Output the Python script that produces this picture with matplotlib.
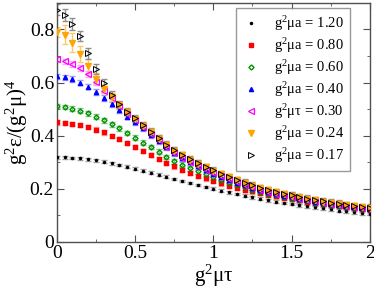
import numpy as np
import matplotlib
matplotlib.use("Agg")
import matplotlib.pyplot as plt
from matplotlib.lines import Line2D

plt.rcParams['font.family'] = ['Liberation Serif', 'DejaVu Serif']
plt.rcParams['mathtext.fontset'] = 'custom'
plt.rcParams['mathtext.rm'] = 'Liberation Serif'
plt.rcParams['mathtext.it'] = 'Liberation Serif:italic'

# g^2 mu tau grid
tau = np.round(np.arange(41) * 0.05, 2)

e_120 = [0.318, 0.318, 0.316, 0.314, 0.311, 0.307, 0.302, 0.296, 0.290, 0.283,
         0.276, 0.268, 0.261, 0.253, 0.245, 0.237, 0.229, 0.222, 0.214, 0.207,
         0.200, 0.193, 0.187, 0.180, 0.174, 0.168, 0.163, 0.157, 0.152, 0.147,
         0.143, 0.138, 0.134, 0.130, 0.126, 0.122, 0.118, 0.115, 0.111, 0.108,
         0.105]
e_080 = [0.450, 0.449, 0.445, 0.440, 0.432, 0.423, 0.412, 0.399, 0.386, 0.371,
         0.356, 0.341, 0.326, 0.311, 0.297, 0.284, 0.272, 0.260, 0.249, 0.239,
         0.229, 0.220, 0.212, 0.204, 0.197, 0.190, 0.183, 0.177, 0.171, 0.166,
         0.161, 0.156, 0.151, 0.147, 0.143, 0.139, 0.135, 0.131, 0.128, 0.124,
         0.121]
e_060 = [0.512, 0.508, 0.502, 0.494, 0.484, 0.472, 0.458, 0.443, 0.427, 0.410,
         0.392, 0.374, 0.357, 0.340, 0.320, 0.304, 0.290, 0.277, 0.265, 0.254,
         0.243, 0.233, 0.223, 0.214, 0.205, 0.197, 0.189, 0.182, 0.175, 0.169,
         0.163, 0.158, 0.153, 0.148, 0.144, 0.140, 0.136, 0.132, 0.128, 0.125,
         0.122]
e_040 = [0.624, 0.620, 0.613, 0.600, 0.585, 0.565, 0.542, 0.518, 0.495, 0.472,
         0.450, 0.427, 0.403, 0.379, 0.356, 0.334, 0.315, 0.299, 0.284, 0.270,
         0.257, 0.245, 0.234, 0.223, 0.213, 0.204, 0.195, 0.188, 0.180, 0.174,
         0.168, 0.162, 0.157, 0.152, 0.147, 0.143, 0.139, 0.135, 0.131, 0.127,
         0.124]
e_030 = [0.688, 0.680, 0.670, 0.655, 0.632, 0.602, 0.570, 0.540, 0.510, 0.483,
         0.458, 0.432, 0.407, 0.382, 0.358, 0.336, 0.317, 0.301, 0.286, 0.272,
         0.259, 0.247, 0.236, 0.225, 0.215, 0.206, 0.197, 0.189, 0.182, 0.175,
         0.169, 0.163, 0.158, 0.153, 0.148, 0.144, 0.140, 0.136, 0.132, 0.128,
         0.125]
e_024 = [0.790, 0.780, 0.750, 0.708, 0.662, 0.615, 0.577, 0.545, 0.515, 0.488,
         0.463, 0.438, 0.413, 0.389, 0.365, 0.344, 0.326, 0.310, 0.295, 0.281,
         0.268, 0.255, 0.243, 0.232, 0.222, 0.212, 0.203, 0.195, 0.187, 0.180,
         0.174, 0.168, 0.162, 0.157, 0.152, 0.147, 0.143, 0.139, 0.135, 0.131,
         0.128]
e_017 = [0.875, 0.855, 0.820, 0.775, 0.710, 0.650, 0.598, 0.555, 0.518, 0.490,
         0.465, 0.440, 0.415, 0.390, 0.366, 0.345, 0.327, 0.311, 0.296, 0.282,
         0.269, 0.256, 0.244, 0.233, 0.223, 0.213, 0.204, 0.196, 0.188, 0.181,
         0.175, 0.169, 0.163, 0.158, 0.153, 0.148, 0.144, 0.140, 0.136, 0.132,
         0.129]

# error bars: early points listed, the rest take the last value
err_024_start = [0.02, 0.035, 0.035, 0.03, 0.025, 0.02, 0.018, 0.016, 0.015, 0.014, 0.012]
err_017_start = [0.022, 0.022, 0.022, 0.02, 0.02, 0.018, 0.016, 0.015, 0.014, 0.013, 0.012]


def pad(start, n, last):
    return list(start) + [last] * (n - len(start))


n = len(tau)
series = [
    ('g$^2$μa = 1.20', e_120, [0.005] * n, 'black', '#a0a0a0', dict(marker='o', ms=1.5, mfc='black', mec='black')),
    ('g$^2$μa = 0.80', e_080, [0.008] * n, 'red', '#ff9a9a', dict(marker='s', ms=2.6, mfc='red', mec='red')),
    ('g$^2$μa = 0.60', e_060, [0.009] * n, '#009000', '#80c880', dict(marker='D', ms=2.6, mfc='none', mec='#009000', mew=1.0)),
    ('g$^2$μa = 0.40', e_040, [0.010] * n, 'blue', '#9a9aff', dict(marker='^', ms=3.0, mfc='blue', mec='blue')),
    ('g$^2$μτ = 0.30', e_030, [0.010] * n, 'magenta', '#ffa0ff', dict(marker='<', ms=3.8, mfc='none', mec='magenta', mew=0.9)),
    ('g$^2$μa = 0.24', e_024, pad(err_024_start, n, 0.012), 'orange', '#ffc870', dict(marker='v', ms=4.0, mfc='orange', mec='orange')),
    ('g$^2$μa = 0.17', e_017, pad(err_017_start, n, 0.012), 'black', '#909090', dict(marker='>', ms=4.5, mfc='none', mec='black', mew=0.7)),
]

fig = plt.figure(figsize=(3.74, 2.9), dpi=100)
ax = fig.add_axes([0.152, 0.166, 0.837, 0.824])

handles = []
for label, vals, err, col, ecol, mk in series:
    ax.errorbar(tau, vals, yerr=err, fmt='none', ecolor=ecol, elinewidth=1.0,
                capsize=2.5, capthick=1.0, zorder=2)
    ax.plot(tau, vals, ls='none', zorder=3, **mk)
    handles.append(Line2D([], [], ls='none', label=label, **mk))

ax.set_xlim(0, 2)
ax.set_ylim(0, 0.9)
ax.set_xticks([0, 0.5, 1, 1.5, 2])
ax.set_xticklabels(['0', '0.5', '1', '1.5', '2'])
ax.set_xticks(np.arange(0, 2.01, 0.25), minor=True)
ax.set_yticks([0, 0.2, 0.4, 0.6, 0.8])
ax.set_yticklabels(['0', '0.2', '0.4', '0.6', '0.8'])
ax.set_yticks(np.arange(0, 0.91, 0.1), minor=True)
ax.tick_params(which='both', direction='in', top=True, right=True, labelsize=14, color='#505050', pad=2)
ax.tick_params(which='major', length=5)
ax.tick_params(which='minor', length=2.5)
for s in ax.spines.values():
    s.set_color('#505050')
    s.set_linewidth(1.0)

ax.set_xlabel('g$^2$μτ', fontsize=15, labelpad=1)
ax.set_ylabel('g$^2$ε/(g$^2$μ)$^4$', fontsize=15, labelpad=0)

leg = ax.legend(handles=handles, loc='upper right', bbox_to_anchor=(0.936, 0.979),
                fontsize=10.5, frameon=True, fancybox=False, edgecolor='#808080',
                labelspacing=0.22, handlelength=1.2, handletextpad=1.0,
                borderpad=0.4, borderaxespad=0)
leg.get_frame().set_linewidth(1.0)

fig.savefig('out.png', dpi=100)
